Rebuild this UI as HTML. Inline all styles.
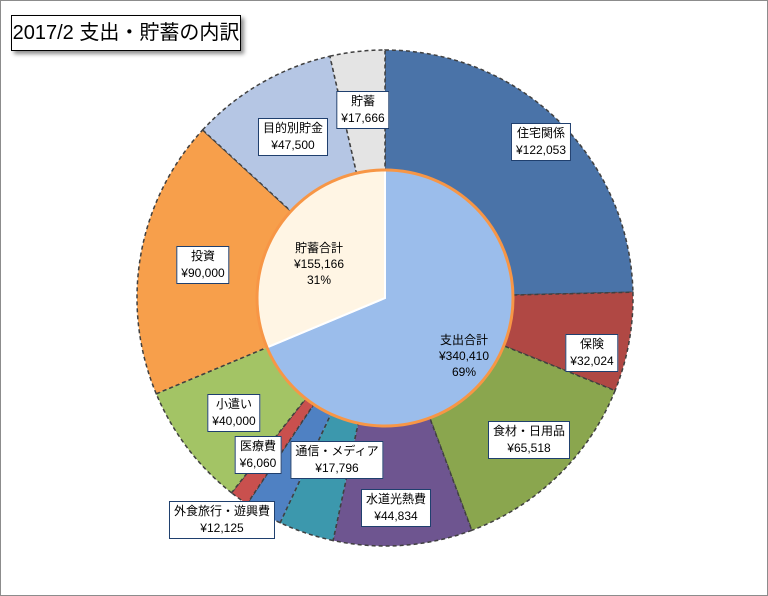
<!DOCTYPE html>
<html><head><meta charset="utf-8"><style>
body{margin:0;background:#fff;}
#c{position:relative;width:766px;height:594px;border:1px solid #8c8c8c;overflow:hidden;font-family:"Liberation Sans","Noto Sans CJK JP",sans-serif;}
.title{position:absolute;left:10px;top:14px;width:228px;height:34px;border:1px solid #000;background:#fff;box-shadow:3px 3px 4px rgba(0,0,0,.45);font-size:20px;line-height:34px;text-align:center;color:#000;}
.lb{position:absolute;background:#fff;border:1px solid #1f3f6e;font-size:12px;line-height:17px;text-align:center;padding:1px 4px;transform:translate(-50%,-50%);white-space:nowrap;color:#000;}
.il{position:absolute;font-size:12px;line-height:16px;text-align:center;transform:translate(-50%,-50%);white-space:nowrap;}
</style></head><body>
<div id="c">
<div class="title">2017/2 支出・貯蓄の内訳</div>
<svg id="s" width="766" height="594" style="position:absolute;left:0;top:0"></svg>
</div>
<script>
const outerNames=["住宅関係","保険","食材・日用品","水道光熱費","通信・メディア","外食旅行・遊興費","医療費","小遣い","投資","目的別貯金","貯蓄"];
const outerValues=[122053,32024,65518,44834,17796,12125,6060,40000,90000,47500,17666];
const outerColors=["#4a73a8","#b04844","#8aa64e","#6e5590","#3c98ad","#4f81c3","#c9504e","#a3c465","#f79f4b","#b5c6e4","#e4e4e4"];
const innerNames=["支出合計","貯蓄合計"];
const innerValues=[340410,155166];
const innerColors=["#9bbdeb","#fff5e4"];
const outerLabelPos=[[540,141],[591,352],[528,439],[395,507],[336,459],[221,519],[257,454],[233,412],[202,264],[292,136],[362,109]];
const innerLabelPos=[[463,355],[318,263]];
const cx=384,cy=297,R=248,r=128;
const svg=document.getElementById('s'),NS="http://www.w3.org/2000/svg";
function pt(a,rad){return [cx+rad*Math.sin(a),cy-rad*Math.cos(a)];}
function fmt(v){return "¥"+v.toLocaleString("en-US");}
const tot=outerValues.reduce((a,b)=>a+b,0);
let a=0;
outerValues.forEach((v,i)=>{
 const a2=a+v/tot*2*Math.PI,lg=(a2-a)>Math.PI?1:0;
 const p1=pt(a,R),p2=pt(a2,R),p3=pt(a2,r),p4=pt(a,r);
 const p=document.createElementNS(NS,"path");
 p.setAttribute("d",`M${p1}A${R},${R} 0 ${lg} 1 ${p2}L${p3}A${r},${r} 0 ${lg} 0 ${p4}Z`);
 p.setAttribute("fill",outerColors[i]);p.setAttribute("stroke","#404040");p.setAttribute("stroke-width","1.5");p.setAttribute("stroke-dasharray","4,3");
 
 
 svg.appendChild(p);a=a2;
});
const itot=innerValues.reduce((a,b)=>a+b,0);a=0;
innerValues.forEach((v,i)=>{
 const a2=a+v/itot*2*Math.PI,lg=(a2-a)>Math.PI?1:0;
 const p1=pt(a,r),p2=pt(a2,r);
 const p=document.createElementNS(NS,"path");
 p.setAttribute("d",`M${cx},${cy}L${p1}A${r},${r} 0 ${lg} 1 ${p2}Z`);
 p.setAttribute("fill",innerColors[i]);p.setAttribute("stroke","#ffffff");p.setAttribute("stroke-width","2");
 
 
 svg.appendChild(p);a=a2;
});
const ring=document.createElementNS(NS,"circle");
ring.setAttribute("cx",cx);ring.setAttribute("cy",cy);ring.setAttribute("r",r);ring.setAttribute("fill","none");ring.setAttribute("stroke","#f79646");ring.setAttribute("stroke-width","3");


svg.appendChild(ring);
const c=document.getElementById('c');
outerNames.forEach((n,i)=>{
 const d=document.createElement('div');d.className='lb';
 d.style.left=outerLabelPos[i][0]+'px';d.style.top=outerLabelPos[i][1]+'px';
 d.innerHTML=n+'<br>'+fmt(outerValues[i]);
 
 
 c.appendChild(d);
});
innerNames.forEach((n,i)=>{
 const d=document.createElement('div');d.className='il';
 d.style.left=innerLabelPos[i][0]+'px';d.style.top=innerLabelPos[i][1]+'px';
 d.innerHTML=n+'<br>'+fmt(innerValues[i])+'<br>'+Math.round(innerValues[i]/itot*100)+'%';
 
 
 c.appendChild(d);
});
</script>
</body></html>
